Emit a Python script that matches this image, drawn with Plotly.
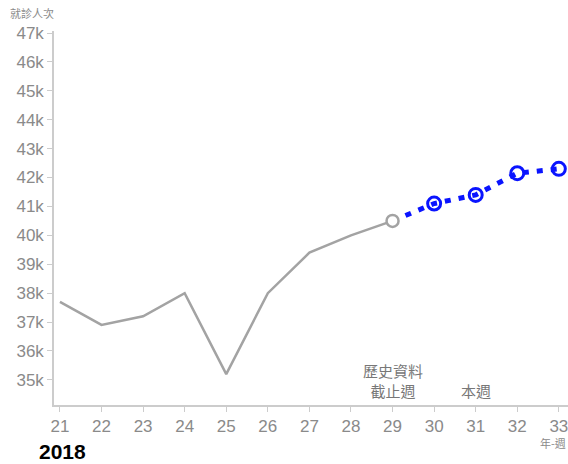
import plotly.graph_objects as go

# Weekly visit counts (thousands)
hist_weeks = [21, 22, 23, 24, 25, 26, 27, 28, 29]
hist_values = [37.7, 36.9, 37.2, 38.0, 35.2, 38.0, 39.4, 40.0, 40.5]

fc_weeks = [29, 30, 31, 32, 33]
fc_values = [40.5, 41.1, 41.4, 42.15, 42.3]

y_ticks = [35, 36, 37, 38, 39, 40, 41, 42, 43, 44, 45, 46, 47]
y_tick_text = [f"{v}k" for v in y_ticks]
x_ticks = list(range(21, 34))

tick_font = dict(family="Liberation Sans Narrow, Arial Narrow, Liberation Sans, sans-serif", size=17, color="#8a8a8a")
GREY = "#a3a3a3"
BLUE = "#0a14ff"

fig = go.Figure()

# Forecast dotted line
fig.add_trace(go.Scatter(
    x=fc_weeks, y=fc_values, mode="lines",
    line=dict(color=BLUE, width=5, dash="6px,8px"),
    hoverinfo="skip", showlegend=False,
))
fig.add_trace(go.Scatter(
    x=fc_weeks[1:], y=fc_values[1:], mode="markers",
    marker=dict(symbol="circle-open", size=13, color=BLUE, line=dict(width=3, color=BLUE)),
    showlegend=False,
))

# Historical line
fig.add_trace(go.Scatter(
    x=hist_weeks, y=hist_values, mode="lines",
    line=dict(color=GREY, width=2.5),
    showlegend=False,
))
fig.add_trace(go.Scatter(
    x=[hist_weeks[-1]], y=[hist_values[-1]], mode="markers",
    marker=dict(symbol="circle", size=12, color="white", line=dict(width=2.5, color=GREY)),
    showlegend=False,
))

axis_common = dict(
    showgrid=False, zeroline=False, showline=True, linecolor="#cccccc", linewidth=1.5,
    ticks="outside", ticklen=5, tickcolor="#cccccc", tickfont=tick_font,
    ticklabeloverflow="allow", automargin=False,
)

fig.update_layout(
    width=568, height=464,
    margin=dict(l=54, r=0, t=31, b=59, autoexpand=False),
    plot_bgcolor="white", paper_bgcolor="white",
    xaxis=dict(range=[20.857, 33.22], tickvals=x_ticks, **axis_common),
    yaxis=dict(range=[34.13, 47.07], tickvals=y_ticks, ticktext=y_tick_text, **axis_common),
    annotations=[
        # y-axis title in the top-left corner
        dict(text="就診人次", xref="paper", yref="paper",
             x=(32 - 54) / 514, y=1 + (31 - 13) / 374,
             xanchor="center", yanchor="middle", showarrow=False,
             font=dict(size=11, color="#8a8a8a", family="Noto Sans CJK TC")),
        dict(text="歷史資料<br>截止週", xref="x", yref="paper", x=29, y=0, yshift=2,
             xanchor="center", yanchor="bottom", showarrow=False,
             font=dict(size=15, color="#777777", family="Noto Sans CJK TC")),
        dict(text="本週", xref="x", yref="paper", x=31, y=0, yshift=2,
             xanchor="center", yanchor="bottom", showarrow=False,
             font=dict(size=15, color="#777777", family="Noto Sans CJK TC")),
        dict(text="年-週", xref="paper", yref="paper", x=1.0, y=0, yshift=-28,
             xanchor="right", yanchor="top", showarrow=False,
             font=dict(size=11, color="#8a8a8a", family="Noto Sans CJK TC")),
        dict(text="<b>2018</b>", xref="paper", yref="paper", x=0, y=0, xshift=-17, yshift=-33,
             xanchor="left", yanchor="top", showarrow=False,
             font=dict(size=21, color="black", family="Liberation Sans Narrow, Arial Narrow, Liberation Sans, sans-serif")),
    ],
)

fig.write_html("out.html")
